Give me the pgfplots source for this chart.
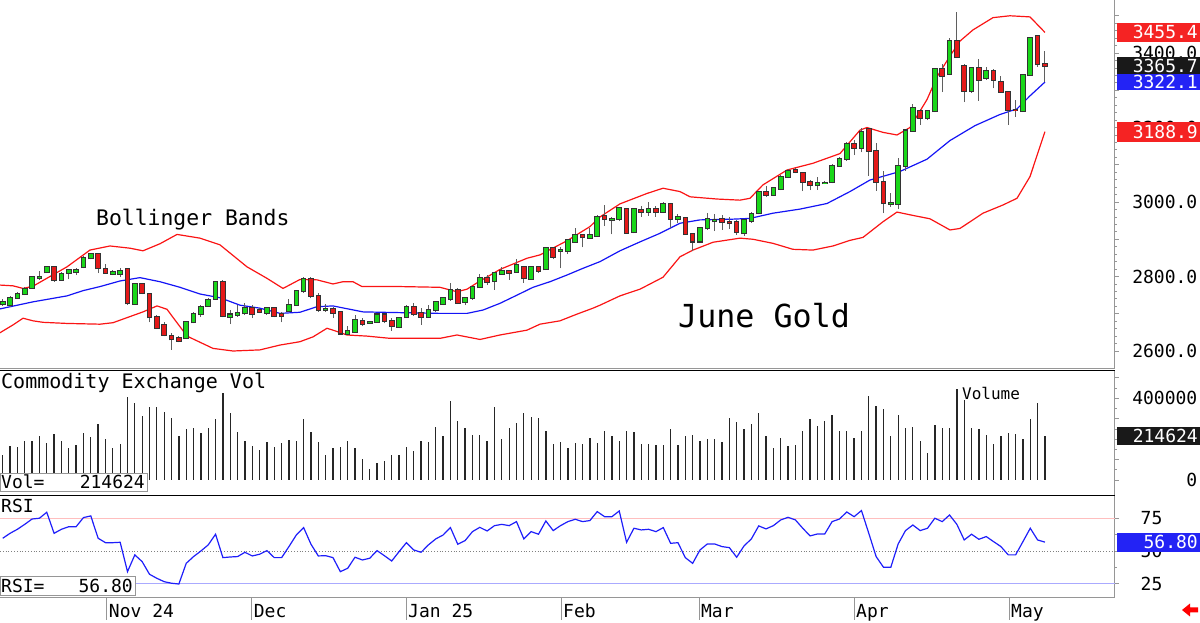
\documentclass[border=0pt]{standalone}
\usepackage{pgfplots}
\pgfplotsset{compat=1.18}
\usepackage{pgfplotstable}
\usepackage{fontspec}
\setmainfont{DejaVu Sans Mono}

\definecolor{candleup}{RGB}{25,215,25}
\definecolor{candledn}{RGB}{228,25,25}
\definecolor{wick}{RGB}{95,95,95}
\definecolor{bandred}{RGB}{250,20,20}
\definecolor{bandblue}{RGB}{20,20,245}
\definecolor{framegray}{RGB}{150,150,150}
\definecolor{boxred}{RGB}{245,35,35}
\definecolor{boxblue}{RGB}{35,35,245}
\definecolor{boxblack}{RGB}{25,25,25}
\definecolor{rsiline}{RGB}{30,30,250}
\definecolor{lvlpink}{RGB}{255,190,190}
\definecolor{lvlblue}{RGB}{170,170,255}

\newcommand{\fs}[1]{\fontsize{#1}{#1}\selectfont}

% daily candles, x = trading-day index
\pgfplotstableread{
i O H L C
0 2725 2739 2722 2732
1 2724 2748 2719 2743
2 2743 2759 2741 2752
3 2753 2773 2750 2767
4 2770 2802 2768 2800
5 2797 2815 2791 2798
6 2811 2829 2809 2826
8 2791 2811 2788 2806
9 2810 2819 2793 2817
10 2811 2822 2804 2817
11 2825 2856 2822 2851
12 2849 2862 2846 2860
15 2807 2817 2804 2813
16 2808 2822 2800 2815
18 2726 2782 2724 2779
25 2634 2681 2632 2679
26 2677 2704 2674 2699
27 2699 2724 2692 2719
28 2722 2742 2719 2738
29 2740 2788 2737 2786
31 2692 2710 2672 2698
32 2697 2723 2692 2701
33 2701 2728 2697 2716
36 2703 2719 2697 2715
39 2707 2739 2704 2723
40 2723 2764 2722 2761
41 2760 2798 2756 2794
44 2710 2726 2706 2712
47 2646 2668 2643 2654
48 2652 2697 2649 2683
50 2675 2680 2672 2679
51 2679 2703 2676 2698
54 2665 2692 2661 2688
55 2690 2723 2688 2719
58 2692 2723 2690 2710
59 2710 2732 2706 2731
60 2726 2743 2723 2741
61 2739 2782 2735 2765
63 2732 2743 2723 2741
64 2743 2775 2737 2771
65 2771 2808 2768 2795
67 2788 2813 2765 2810
68 2808 2826 2807 2815
70 2813 2846 2810 2831
72 2793 2828 2791 2826
74 2819 2878 2817 2876
76 2869 2880 2822 2871
77 2869 2902 2860 2898
78 2893 2929 2891 2911
80 2904 2929 2902 2911
81 2909 2965 2907 2961
83 2953 2961 2913 2955
84 2954 2986 2949 2983
86 2919 2983 2916 2980
88 2974 2999 2963 2980
90 2974 2999 2970 2994
92 2954 2969 2943 2960
95 2894 2934 2889 2929
96 2929 2970 2925 2954
97 2949 2968 2922 2951
101 2916 2954 2910 2952
102 2949 2972 2945 2968
103 2970 3030 2967 3028
105 3019 3041 3016 3037
106 3035 3073 3032 3066
107 3066 3089 3064 3083
111 3045 3067 3033 3052
112 3051 3056 3048 3052
113 3053 3101 3050 3098
114 3097 3122 3095 3115
115 3115 3160 3110 3155
117 3146 3200 3133 3187
121 2995 3023 2987 2997
122 2996 3117 2981 3098
123 3098 3195 3084 3192
124 3192 3262 3189 3253
126 3225 3247 3220 3244
127 3244 3359 3241 3356
129 3344 3440 3341 3432
132 3299 3362 3294 3359
134 3334 3363 3328 3353
139 3244 3344 3241 3341
140 3341 3442 3339 3440
}\upcandles

\pgfplotstableread{
i O H L C
7 2825 2829 2786 2790
13 2861 2862 2809 2822
14 2819 2833 2807 2810
17 2819 2822 2724 2728
19 2780 2782 2752 2755
20 2753 2755 2677 2690
21 2692 2697 2659 2663
22 2670 2677 2639 2643
23 2639 2647 2603 2631
24 2634 2639 2623 2627
30 2786 2791 2690 2695
34 2715 2723 2688 2700
35 2710 2715 2701 2706
37 2715 2716 2690 2695
38 2699 2706 2677 2695
42 2793 2800 2741 2748
43 2748 2755 2706 2710
45 2712 2719 2688 2703
46 2706 2708 2646 2647
49 2681 2688 2667 2673
52 2698 2703 2674 2681
53 2681 2688 2655 2668
56 2719 2728 2694 2699
57 2703 2715 2670 2692
62 2764 2768 2726 2730
66 2795 2804 2777 2786
69 2816 2818 2791 2810
71 2826 2828 2783 2795
73 2825 2828 2810 2816
75 2876 2880 2846 2853
79 2911 2914 2878 2905
82 2962 2992 2935 2954
85 2981 2983 2915 2918
87 2979 2990 2961 2974
89 2980 2990 2961 2974
91 2994 2997 2929 2955
93 2956 2961 2912 2914
94 2913 2916 2869 2894
98 2954 2965 2925 2947
99 2947 2961 2928 2943
100 2947 2952 2912 2919
104 3028 3044 3014 3019
108 3086 3091 3077 3080
109 3078 3081 3029 3054
110 3054 3060 3032 3045
116 3155 3167 3126 3146
118 3195 3198 3071 3137
119 3137 3159 3030 3055
120 3055 3082 2970 2997
125 3244 3250 3207 3225
128 3356 3370 3295 3338
130 3432 3509 3386 3389
131 3365 3370 3268 3299
133 3359 3384 3272 3328
135 3353 3357 3305 3328
136 3323 3337 3295 3296
137 3296 3298 3207 3247
138 3248 3274 3229 3246
141 3446 3449 3363 3370
142 3370.6 3405.5 3323.2 3365.7
}\downcandles

% Bollinger bands (20-day)
\pgfplotstableread{
x p
-0.37 2777
1.40 2775
2.77 2768
4.13 2774
6.44 2800
8.76 2826
11.89 2871
14.62 2882
17.34 2876
19.11 2869
21.43 2888
23.75 2913
26.88 2903
29.60 2885
33.28 2826
36.01 2795
38.19 2768
40.50 2792
42.82 2791
45.00 2780
46.36 2786
47.72 2786
48.95 2773
54.13 2773
59.58 2771
61.89 2759
63.26 2766
64.62 2783
67.75 2819
71.43 2849
73.20 2858
76.88 2896
80.01 2934
81.38 2960
84.10 2995
87.78 3023
89.96 3037
92.28 3028
93.64 3014
97.32 3008
100.45 3005
101.81 3010
103.58 3046
106.86 3086
110.39 3104
114.07 3130
116.80 3193
117.75 3200
119.93 3187
121.84 3180
123.61 3200
125.93 3275
127.29 3336
129.06 3392
130.42 3432
132.19 3462
134.92 3495
137.23 3500
139.96 3497
142.00 3455.4
}\bbupper

\pgfplotstableread{
x p
-0.37 2713
4.13 2732
8.76 2748
10.94 2762
13.26 2773
15.98 2788
18.70 2797
21.43 2786
24.16 2771
26.88 2753
29.60 2743
32.33 2723
35.05 2715
37.78 2701
40.50 2704
42.82 2719
45.00 2721
49.09 2705
54.13 2703
59.58 2701
63.26 2701
65.44 2710
67.75 2728
70.07 2750
72.25 2771
74.56 2786
76.88 2804
79.06 2822
81.38 2840
84.10 2869
86.83 2893
89.55 2916
92.28 2943
95.00 2952
99.50 2954
101.81 2956
104.95 2970
108.63 2981
112.30 2996
115.43 3028
118.16 3059
122.25 3082
125.93 3115
129.06 3165
132.46 3205
135.87 3235
138.19 3250
139.96 3285
142.00 3322.1
}\bbmid

\pgfplotstableread{
x p
-0.37 2649
1.40 2670
2.77 2688
4.13 2681
5.49 2677
8.76 2674
13.26 2672
15.03 2676
19.11 2705
21.02 2721
22.38 2712
25.11 2640
28.65 2607
31.38 2600
35.05 2603
37.78 2616
40.50 2625
42.28 2638
44.18 2661
45.00 2656
46.91 2643
49.63 2640
52.77 2634
59.58 2634
61.89 2643
65.03 2631
67.75 2643
71.43 2656
73.20 2672
75.92 2681
78.24 2699
80.42 2715
81.38 2723
84.10 2748
86.83 2766
89.96 2798
92.28 2853
94.05 2871
96.78 2892
100.45 2903
102.22 2900
104.95 2889
107.67 2873
110.39 2871
113.12 2882
115.43 2897
117.21 2905
119.93 2947
121.84 2973
124.02 2964
126.33 2955
129.06 2925
130.42 2929
133.56 2970
136.28 2992
138.19 3010
139.96 3068
142.00 3188.9
}\bblower

\pgfplotstableread{
i v
0 122400
1 166400
2 163200
3 192500
4 190900
5 217000
6 179500
7 225200
8 192500
9 158300
10 171300
11 228400
12 212100
13 272500
14 200700
15 158300
16 176200
17 408000
18 375300
19 313300
20 355700
21 355700
22 331300
23 305100
24 217000
25 249700
26 252900
27 228400
28 252900
29 298600
30 424300
31 326400
32 233300
33 190900
34 168100
35 146800
36 184400
37 163200
38 179500
39 195800
40 192500
41 298600
42 236600
43 187600
44 122400
45 155000
46 163200
47 192500
48 155000
49 102800
50 52200
51 81600
52 94600
53 122400
54 122400
55 163200
56 142000
57 190900
58 184400
59 257800
60 215400
61 388400
62 288800
63 256200
64 220300
65 220300
66 192500
67 355700
68 200700
69 256200
70 280700
71 329600
72 310000
73 305100
74 241500
75 174600
76 187600
77 158300
78 182700
79 176200
80 204000
81 182700
82 241500
83 215400
84 190900
85 241500
86 233300
87 174600
88 176200
89 171300
90 171300
91 249700
92 171300
93 215400
94 220300
95 192500
96 200700
97 199100
98 184400
99 301900
100 285600
101 249700
102 274100
103 329600
104 215400
105 158300
106 207200
107 166400
108 171300
109 239900
110 298600
111 266000
112 288800
113 318200
114 241500
115 241500
116 207200
117 241500
118 412900
119 363900
120 347600
121 215400
122 318200
123 256200
124 261100
125 192500
126 130500
127 269200
128 256200
129 256200
130 443900
131 391600
132 252900
133 249700
134 220300
135 174600
136 215400
137 228400
138 225200
139 200700
140 298600
141 378600
142 214624
}\volume

\pgfplotstableread{
i r
0 59.8
1 63.6
2 66.7
3 70.5
4 74.6
5 75.2
6 79.8
7 63.6
8 66.7
9 68.7
10 68.7
11 75.7
12 77.0
13 59.8
14 56.4
15 56.4
16 56.7
17 34.1
18 47.0
19 41.8
20 32.1
21 29.0
22 26.4
23 25.2
24 24.6
25 40.5
26 45.7
27 50.0
28 54.7
29 62.9
30 44.9
31 45.4
32 45.7
33 49.0
34 46.2
35 47.5
36 50.3
37 44.9
38 44.9
39 53.4
40 62.3
41 68.0
42 55.2
43 46.2
44 46.4
45 44.9
46 34.1
47 36.7
48 45.2
49 43.1
50 44.4
51 50.3
52 46.4
53 42.3
54 49.5
55 56.4
56 50.8
57 49.0
58 54.7
59 59.3
60 62.3
61 68.0
62 55.2
63 58.0
64 64.9
65 68.2
66 65.4
67 69.5
68 70.5
69 69.5
70 72.6
71 59.3
72 64.9
73 62.9
74 73.1
75 65.7
76 69.5
77 72.6
78 74.4
79 72.6
80 73.4
81 80.3
82 76.4
83 76.4
84 80.8
85 56.7
86 67.5
87 66.2
88 66.7
89 64.9
90 68.0
91 55.9
92 56.4
93 44.9
94 40.5
95 50.8
96 55.4
97 55.4
98 53.4
99 52.6
100 45.2
101 53.9
102 59.3
103 69.3
104 67.0
105 69.5
106 73.9
107 75.9
108 73.9
109 67.5
110 61.6
111 63.1
112 63.1
113 72.6
114 74.6
115 80.0
116 76.4
117 81.1
118 63.6
119 45.7
120 37.5
121 37.5
122 55.4
123 65.7
124 70.0
125 65.7
126 67.5
127 75.2
128 72.6
129 77.7
130 70.5
131 58.5
132 62.9
133 59.0
134 61.1
135 57.2
136 53.4
137 47.0
138 47.0
139 57.2
140 67.5
141 58.5
142 56.8
}\rsi

\pgfplotsset{
  panel/.style={
    anchor=south west, scale only axis, width=1115pt,
    xmin=-0.37, xmax=151.54,
    axis y line*=right,
    axis line style={-, draw=framegray, line width=1pt},
    tick align=outside, major tick length=4pt, minor tick length=2pt,
    tick style={draw=framegray, line width=0.8pt},
  },
  wicks/.style={draw=none, mark=none, forget plot,
    error bars/.cd, y dir=plus, y explicit, error mark=none,
    error bar style={draw=wick, line width=1pt}},
  bodyedge/.style={draw=none, mark=none, forget plot,
    error bars/.cd, y dir=plus, y explicit, error mark=none,
    error bar style={draw=black!80, line width=5.6pt}},
  bodyfill/.style={draw=none, mark=none, forget plot,
    error bars/.cd, y dir=plus, y explicit, error mark=none,
    error bar style={draw=#1, line width=3.6pt}},
}

\begin{document}
\begin{tikzpicture}[x=1pt,y=1pt]
\path[use as bounding box] (0,0) rectangle (1200,623);

% ---------- price panel ----------
\begin{axis}[panel,
  at={(0pt,254pt)}, height=369pt,
  ymin=2551.7, ymax=3542.4,
  axis x line=none,
  ytick={2600,2700,...,3500},
  yticklabels={2600.0,,2800.0,,3000.0,,3200.0,,3400.0,},
  minor y tick num=4,
  yticklabel style={font=\fs{18}, anchor=east, inner sep=0pt, xshift=78.5pt},
]
\addplot[bandred, line width=1.2pt, mark=none] table[x=x,y=p]{\bbupper};
\addplot[bandblue, line width=1.2pt, mark=none] table[x=x,y=p]{\bbmid};
\addplot[bandred, line width=1.2pt, mark=none] table[x=x,y=p]{\bblower};

\addplot[wicks] table[x=i, y=L, y error plus expr=\thisrow{H}-\thisrow{L}]{\upcandles};
\addplot[wicks] table[x=i, y=L, y error plus expr=\thisrow{H}-\thisrow{L}]{\downcandles};

\addplot[bodyedge] table[x=i, y expr=\thisrow{O}-2.7, y error plus expr=\thisrow{C}-\thisrow{O}+5.4]{\upcandles};
\addplot[bodyfill=candleup] table[x=i, y=O, y error plus expr=\thisrow{C}-\thisrow{O}]{\upcandles};
\addplot[bodyedge] table[x=i, y expr=\thisrow{C}-2.7, y error plus expr=\thisrow{O}-\thisrow{C}+5.4]{\downcandles};
\addplot[bodyfill=candledn] table[x=i, y=C, y error plus expr=\thisrow{O}-\thisrow{C}]{\downcandles};

\coordinate (ub) at (axis cs:142,3455.4);
\coordinate (cl) at (axis cs:142,3365.7);
\coordinate (mb) at (axis cs:142,3322.1);
\coordinate (lb) at (axis cs:142,3188.9);
\end{axis}

% ---------- volume panel ----------
\begin{axis}[panel,
  at={(0pt,128pt)}, height=125pt,
  ymin=-73440, ymax=538560,
  axis x line=none,
  scaled y ticks=false,
  ytick={0,100000,...,500000},
  yticklabels={0,,,,400000,},
  minor y tick num=1,
  yticklabel style={font=\fs{18}, anchor=east, inner sep=0pt, xshift=78.5pt},
]
\addplot[ycomb, draw=black!85, line width=1.3pt, mark=none] table[x=i,y=v]{\volume};
\coordinate (vl) at (axis cs:142,214624);
\end{axis}

% ---------- RSI panel ----------
\begin{axis}[panel,
  at={(0pt,25pt)}, height=103pt,
  ymin=13.85, ymax=93.08,
  axis x line*=bottom,
  xtick={14.17,33.92,54.95,76.06,94.86,115.98,137.10},
  xticklabels={Nov 24,Dec,Jan 25,Feb,Mar,Apr,May},
  xtick style={/pgfplots/major tick length=22pt},
  xticklabel style={font=\fs{18}, anchor=north west, inner sep=0pt, xshift=2pt, yshift=-2pt},
  ytick={25,50,75},
  yticklabels={25,50,75},
  minor y tick num=1,
  yticklabel style={font=\fs{18}, anchor=west, inner sep=0pt, xshift=21.5pt},
]
\addplot[lvlpink, line width=0.8pt, mark=none] coordinates {(-0.37,75) (151.54,75)};
\addplot[gray, dotted, line width=0.8pt, mark=none] coordinates {(-0.37,50) (151.54,50)};
\addplot[lvlblue, line width=0.8pt, mark=none] coordinates {(-0.37,25) (151.54,25)};
\addplot[rsiline, line width=1.2pt, mark=none] table[x=i,y=r]{\rsi};
\coordinate (rl) at (axis cs:142,56.8);
\end{axis}

% panel separators
\draw[framegray, line width=1pt] (0,254) -- (1115,254);
\draw[black, line width=1.6pt] (0,252.5) -- (1115,252.5);
\draw[black, line width=1.6pt] (0,127.5) -- (1115,127.5);

% panel captions
\node[anchor=base west, inner sep=0pt, font=\fs{21.4}] at (96,397) {Bollinger Bands};
\node[anchor=base west, inner sep=0pt, font=\fs{31.7}] at (678,295) {June Gold};
\node[anchor=base west, inner sep=0pt, font=\fs{20}] at (1,234) {Commodity Exchange Vol};
\node[anchor=base west, inner sep=0pt, font=\fs{16}] at (962,223) {Volume};
\node[anchor=base west, inner sep=0pt, font=\fs{18}] at (1,110) {RSI};

% read-out boxes, lower left
\draw[framegray, fill=white] (0,132) rectangle (147,150);
\node[anchor=base west, inner sep=0pt, font=\fs{18}] at (1,134.5) {Vol=};
\node[anchor=base east, inner sep=0pt, font=\fs{18}] at (145,134.5) {214624};
\draw[framegray, fill=white] (0,28) rectangle (135,47);
\node[anchor=base west, inner sep=0pt, font=\fs{18}] at (1,30.5) {RSI=};
\node[anchor=base east, inner sep=0pt, font=\fs{18}] at (133,30.5) {56.80};

% last-value boxes on the right scale
\newcommand{\valbox}[4]{%
  \node[fill=#2, minimum width=83pt, minimum height=#3, inner sep=0pt, anchor=west] at (1117,0 |- #1) {};
  \node[anchor=east, inner sep=0pt, text=white, font=\fs{18}] at (1198,0 |- #1) {#4};
}
\valbox{ub}{boxred}{19pt}{3455.4}
\valbox{cl}{boxblack}{17pt}{3365.7}
\valbox{mb}{boxblue}{16pt}{3322.1}
\valbox{lb}{boxred}{20pt}{3188.9}
\valbox{vl}{boxblack}{18.5pt}{214624}
\valbox{rl}{boxblue}{19pt}{56.80}

% scroll marker
\fill[red] (1182,13) -- (1190,19.5) -- (1190,15.5) -- (1198,15.5) -- (1198,10.5) -- (1190,10.5) -- (1190,6.5) -- cycle;
\end{tikzpicture}
\end{document}
